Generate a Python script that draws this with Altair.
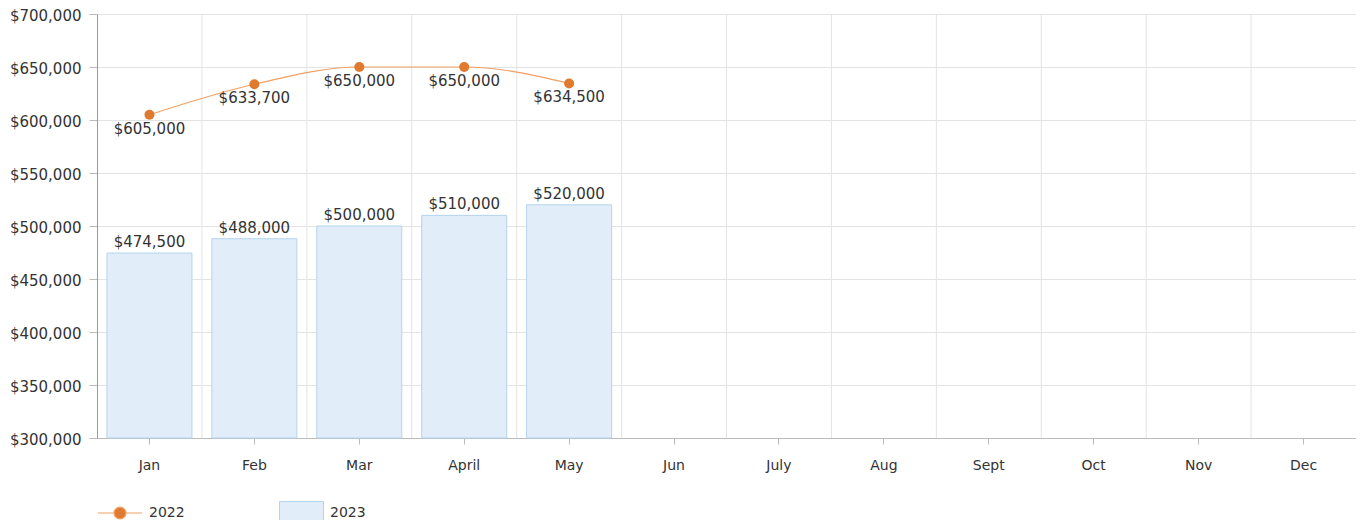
import altair as alt
import pandas as pd

months = ["Jan", "Feb", "Mar", "April", "May", "Jun", "July", "Aug", "Sept", "Oct", "Nov", "Dec"]
months_2022 = ["Jan", "Feb", "Mar", "April", "May"]
values_2022 = [605000, 633700, 650000, 650000, 634500]
months_2023 = ["Jan", "Feb", "Mar", "April", "May"]
values_2023 = [474500, 488000, 500000, 510000, 520000]
y_ticks = [300000, 350000, 400000, 450000, 500000, 550000, 600000, 650000, 700000]

FONT = "DejaVu Sans"
LINE_COLOR = "#F0A064"
POINT_COLOR = "#E07A2E"
BAR_FILL = "#E1EEF9"
BAR_STROKE = "#B3D4EF"
TEXT_COLOR = "#333333"
GRID = "#E3E3E3"

df22 = pd.DataFrame({"month": months_2022, "value": values_2022, "series": "2022"})
df23 = pd.DataFrame({"month": months_2023, "value": values_2023, "series": "2023"})
grid_df = pd.DataFrame({"month": months[1:]})

x_scale = alt.Scale(domain=months, paddingInner=0, paddingOuter=0)
y_scale = alt.Scale(domain=[y_ticks[0], y_ticks[-1]], zero=False, nice=False)

x_axis = alt.Axis(
    grid=False, labelAngle=0, labelFont=FONT, labelFontSize=14, labelColor=TEXT_COLOR,
    labelPadding=14, tickSize=6, tickColor="#BBBBBB", domainColor="#BBBBBB",
)
x_enc = alt.X("month:N", scale=x_scale, sort=months, title=None, axis=x_axis)
y_enc = alt.Y(
    "value:Q",
    scale=y_scale,
    title=None,
    axis=alt.Axis(
        values=y_ticks, format="$,.0f", labelFont=FONT, labelFontSize=15, labelColor=TEXT_COLOR,
        gridColor=GRID, tickColor="#BBBBBB", domainColor="#999999", tickSize=8, labelPadding=8,
        labelOffset=1,
    ),
)

grid_rules = alt.Chart(grid_df).mark_rule(color=GRID, strokeWidth=1).encode(
    x=alt.X("month:N", scale=x_scale, sort=months, bandPosition=0, title=None, axis=x_axis)
)

bar_symbol = "M-1,-0.5H1V0.5H-1Z"
line_symbol = "M-1,0H-0.27A0.27,0.27 0 1,1 0.27,0A0.27,0.27 0 1,1 -0.27,0M0.27,0H1"

line = alt.Chart(df22).mark_line(
    interpolate="monotone", strokeWidth=1.2
).encode(
    x=x_enc,
    y=y_enc,
    color=alt.Color(
        "series:N",
        scale=alt.Scale(domain=["2022"], range=[LINE_COLOR]),
        legend=alt.Legend(
            title=None, orient="bottom", symbolType=line_symbol, symbolSize=1936,
            symbolFillColor=POINT_COLOR, symbolStrokeColor=LINE_COLOR, symbolStrokeWidth=1.2,
            labelFont=FONT, labelFontSize=14, labelColor=TEXT_COLOR, labelOffset=6,
            offset=18, padding=0,
        ),
    ),
)

bars = alt.Chart(df23).mark_bar(
    width=alt.RelativeBandSize(0.81), stroke=BAR_STROKE, strokeWidth=1
).encode(
    x=x_enc,
    y=y_enc,
    y2=alt.datum(y_ticks[0]),
    fill=alt.Fill(
        "series:N",
        scale=alt.Scale(domain=["2023"], range=[BAR_FILL]),
        legend=alt.Legend(
            title=None, orient="bottom", symbolType=bar_symbol, symbolSize=1936,
            symbolStrokeColor=BAR_STROKE, symbolStrokeWidth=1, labelFont=FONT,
            labelFontSize=14, labelColor=TEXT_COLOR, labelOffset=6, offset=18,
            padding=0, symbolOffset=86,
        ),
    ),
)

bar_labels = alt.Chart(df23).mark_text(
    dy=-11, font=FONT, fontSize=15, color=TEXT_COLOR
).encode(x=x_enc, y=y_enc, text=alt.Text("value:Q", format="$,.0f"))

points = alt.Chart(df22).mark_circle(size=100, color=POINT_COLOR, opacity=1).encode(
    x=x_enc, y=y_enc
)

line_labels = alt.Chart(df22).mark_text(
    dy=14, font=FONT, fontSize=15, color=TEXT_COLOR
).encode(x=x_enc, y=y_enc, text=alt.Text("value:Q", format="$,.0f"))

chart = alt.layer(
    grid_rules, line, bars, bar_labels, points, line_labels
).resolve_scale(color="independent", fill="independent").properties(
    width=1259,
    height=424,
    autosize=alt.AutoSizeParams(type="none"),
    padding={"left": 89, "top": 6, "right": 0, "bottom": 82},
).configure_view(stroke=None).configure_legend(
    symbolLimit=0
)

chart.save("out.html", embed_options={"renderer": "svg", "actions": False})
